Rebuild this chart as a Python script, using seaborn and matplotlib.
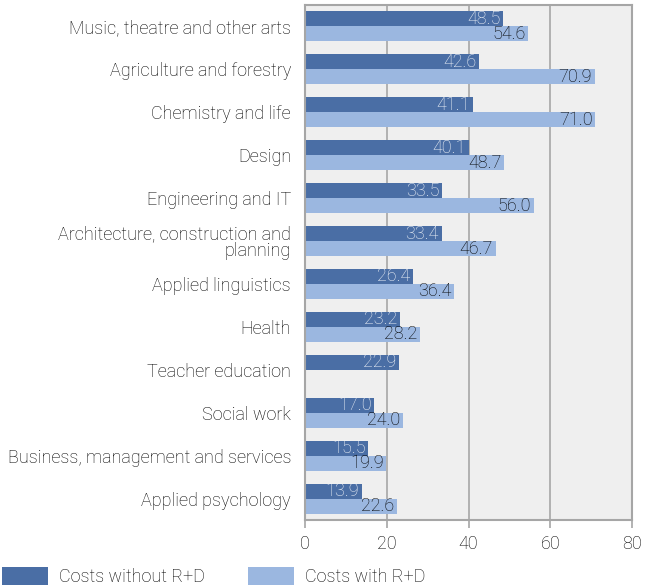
import matplotlib
matplotlib.use("Agg")
import matplotlib.pyplot as plt
import seaborn as sns
import pandas as pd
import numpy as np
from matplotlib.patches import Patch

fields = [
    "Music, theatre and other arts",
    "Agriculture and forestry",
    "Chemistry and life",
    "Design",
    "Engineering and IT",
    "Architecture, construction and\nplanning",
    "Applied linguistics",
    "Health",
    "Teacher education",
    "Social work",
    "Business, management and services",
    "Applied psychology",
]
costs_without_rd = [48.5, 42.6, 41.1, 40.1, 33.5, 33.4, 26.4, 23.2, 22.9, 17.0, 15.5, 13.9]
costs_with_rd = [54.6, 70.9, 71.0, 48.7, 56.0, 46.7, 36.4, 28.2, np.nan, 24.0, 19.9, 22.6]
series_names = ["Costs without R+D", "Costs with R+D"]
x_ticks = [0, 20, 40, 60, 80]

dark = "#4a6ea5"
light = "#9bb7e0"
text_color = "#000000"
FS = 13

df = pd.DataFrame({
    "field": fields * 2,
    "series": [series_names[0]] * len(fields) + [series_names[1]] * len(fields),
    "value": costs_without_rd + costs_with_rd,
})

sns.set_theme(style="white")
plt.rcParams["font.family"] = ["Roboto", "DejaVu Sans"]
plt.rcParams["font.weight"] = "light"

fig = plt.figure(figsize=(6.5, 5.88), dpi=100)
ax = fig.add_axes([305 / 650, 1 - 520 / 588, 327 / 650, 515 / 588])
ax.set_facecolor("#efefef")

sns.barplot(data=df, y="field", x="value", hue="series", order=fields,
            hue_order=series_names, palette=[dark, light], width=0.7,
            orient="h", ax=ax, legend=False, saturation=1, linewidth=0,
            edgecolor="none")

ax.set_xlim(0, 80)
ax.set_xticks(x_ticks)
ax.set_xticklabels([str(t) for t in x_ticks], fontsize=FS, color=text_color,
                   fontweight="light")
ax.xaxis.grid(True, color="#a6a6a6", linewidth=1.2)
ax.yaxis.grid(False)
ax.set_axisbelow(True)
ax.set_xlabel("")
ax.set_ylabel("")
ax.tick_params(axis="y", length=0, labelsize=FS, labelcolor=text_color, pad=10)
ax.tick_params(axis="x", length=6, width=1.2, color="#a6a6a6", pad=5,
               direction="out", bottom=True)
for lbl in ax.get_yticklabels():
    lbl.set_horizontalalignment("right")
    lbl.set_multialignment("right")
    lbl.set_fontweight("light")
    lbl.set_linespacing(0.95)
for sp in ax.spines.values():
    sp.set_color("#a6a6a6")
    sp.set_linewidth(1.5)

label_colors = ["#f2f5fa", text_color]
for cont, col in zip(ax.containers, label_colors):
    vals = [f"{v:.1f}" if np.isfinite(v) and v > 0 else "" for v in cont.datavalues]
    texts = ax.bar_label(cont, labels=vals, padding=-2, color=col, fontsize=FS,
                         fontweight="light")
    for t in texts:
        t.set_horizontalalignment("right")

handles = [Patch(facecolor=dark, linewidth=0), Patch(facecolor=light, linewidth=0)]
fig.legend(handles, series_names, loc="lower left", bbox_to_anchor=(0.0, 0.0),
           ncol=2, frameon=False, handlelength=2.55, handleheight=1.1,
           handletextpad=0.6, columnspacing=2.4, borderaxespad=0.0, borderpad=0.1,
           labelcolor=text_color, prop={"weight": "light", "size": FS})

fig.savefig("out.png", dpi=100)
